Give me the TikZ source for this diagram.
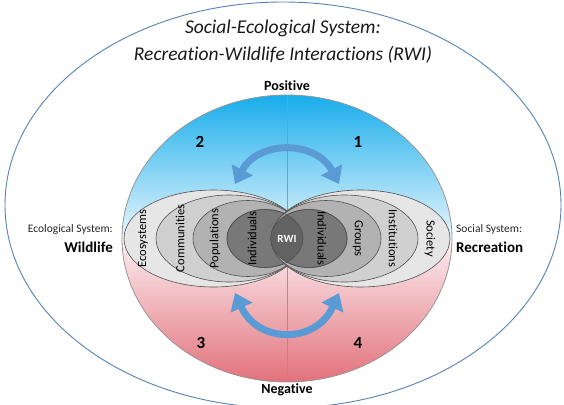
\documentclass[tikz,border=0pt]{standalone}
\usepackage{fontspec}
\setmainfont{Carlito}[Ligatures=NoCommon]
\usetikzlibrary{arrows.meta}

\definecolor{ringblue}{RGB}{84,130,180}
\definecolor{skytop}{RGB}{22,172,235}
\definecolor{skylow}{RGB}{234,247,253}
\definecolor{rosetop}{RGB}{252,240,242}
\definecolor{rosebot}{RGB}{226,112,122}
\definecolor{axisgray}{RGB}{150,150,150}
\definecolor{arrowblue}{RGB}{91,155,213}
\definecolor{edgegray}{RGB}{80,80,80}
\definecolor{tierA}{RGB}{230,230,230}
\definecolor{tierB}{RGB}{208,208,208}
\definecolor{tierC}{RGB}{178,178,178}
\definecolor{tierD}{RGB}{120,120,120}
\definecolor{tierE}{RGB}{98,98,98}

\begin{document}
\begin{tikzpicture}[x=1pt,y=-1pt,
  layer/.style={draw=edgegray, line width=0.6pt},
  tier/.style={font=\fontsize{12.5}{14}\selectfont, inner sep=0pt},
  titletext/.style={font=\fontsize{19.5}{22}\selectfont\itshape, text=black!90, inner sep=0pt},
  poletext/.style={font=\fontsize{14}{16}\selectfont\bfseries, inner sep=0pt},
  quadnum/.style={font=\fontsize{17}{19}\selectfont\bfseries, inner sep=0pt},
  systext/.style={font=\fontsize{11.5}{13}\selectfont, text=black!85, inner sep=0pt},
  sysbold/.style={font=\fontsize{15}{17}\selectfont\bfseries, inner sep=0pt},
  swing/.style={draw=arrowblue, line width=7pt,
    {Triangle[width=23pt,length=16pt]}-{Triangle[width=23pt,length=16pt]}}
]
\useasboundingbox (0,0) rectangle (564,404);

% outer social-ecological system
\begin{scope}
  \clip (0,0) rectangle (564,404);
  \draw[ringblue, line width=0.9pt] (283,205) ellipse [x radius=278, y radius=203];
\end{scope}

% positive / negative halves
\begin{scope}
  \clip (287,238.5) ellipse [x radius=165, y radius=143.5];
  \shade[top color=skytop, bottom color=skylow] (118,94) rectangle (456,238.5);
  \shade[top color=rosetop, bottom color=rosebot] (118,238.5) rectangle (456,383);
\end{scope}
\draw[axisgray, line width=0.8pt] (287,238.5) ellipse [x radius=165, y radius=143.5];
\coordinate (axtop) at (287,95);
\coordinate (axbot) at (287,382);
\draw[axisgray, line width=0.6pt] (axtop) -- (axbot);

% ecological levels (left)
\fill[tierA, layer] (213.5,238.5) ellipse [x radius=89.5, y radius=48.5];
\fill[tierB, layer] (229.5,238.5) ellipse [x radius=73.5, y radius=43.5];
\fill[tierC, layer] (248,238.5) ellipse [x radius=55, y radius=38];
\fill[tierD, layer] (265,238.5) ellipse [x radius=38, y radius=29];

% social levels (right)
\fill[tierA, layer] (360.5,238.5) ellipse [x radius=89.5, y radius=48.5];
\fill[tierB, layer] (344.5,238.5) ellipse [x radius=73.5, y radius=43.5];
\fill[tierC, layer] (326,238.5) ellipse [x radius=55, y radius=38];
\fill[tierD, layer] (309,238.5) ellipse [x radius=38, y radius=29];

% overlap of the two individual levels
\begin{scope}
  \clip (265,238.5) ellipse [x radius=38, y radius=29];
  \fill[tierE] (309,238.5) ellipse [x radius=38, y radius=29];
\end{scope}
\draw[layer] (265,238.5) ellipse [x radius=38, y radius=29];
\draw[layer] (309,238.5) ellipse [x radius=38, y radius=29];

% level labels
\node[tier, rotate=90] (eco) at (143,238.5) {Ecosystems};
\node[tier, rotate=90] (com) at (180,238.5) {Communities};
\node[tier, rotate=90] (pop) at (215,238.5) {Populations};
\node[tier, rotate=90] (indw) at (252,238.5) {Individuals};
\node[tier, rotate=-90] (indr) at (322,238.5) {Individuals};
\node[tier, rotate=-90] (grp) at (358,238.5) {Groups};
\node[tier, rotate=-90] (ins) at (393,238.5) {Institutions};
\node[tier, rotate=-90] (soc) at (430,238.5) {Society};
\node[font=\fontsize{11}{13}\selectfont\bfseries, text=white, inner sep=0pt] (rwi) at (287,238.5) {RWI};

% interaction arrows
\coordinate (upL) at (235,184);
\coordinate (upR) at (339,184);
\coordinate (upcL) at (258,140);
\coordinate (upcR) at (316,140);
\draw[swing] (upL) .. controls (upcL) and (upcR) .. (upR);
\coordinate (dnL) at (235,293);
\coordinate (dnR) at (339,293);
\coordinate (dncL) at (258,344);
\coordinate (dncR) at (316,344);
\draw[swing] (dnL) .. controls (dncL) and (dncR) .. (dnR);

% texts
\node[titletext] (title1) at (283,28) {Social-Ecological System:};
\node[titletext] (title2) at (283,55) {Recreation-Wildlife Interactions (RWI)};
\node[poletext] (pos) at (287,86) {Positive};
\node[poletext] (neg) at (287,390) {Negative};
\node[quadnum] (q1) at (358,142) {1};
\node[quadnum] (q2) at (200,142) {2};
\node[quadnum] (q3) at (201,343) {3};
\node[quadnum] (q4) at (358,343) {4};
\node[systext, anchor=east] (ecosys) at (113,229) {Ecological System:};
\node[sysbold, anchor=east] (wild) at (113,247) {Wildlife};
\node[systext, anchor=west] (socsys) at (456,229) {Social System:};
\node[sysbold, anchor=west] (recr) at (456,247) {Recreation};
\end{tikzpicture}
\end{document}
